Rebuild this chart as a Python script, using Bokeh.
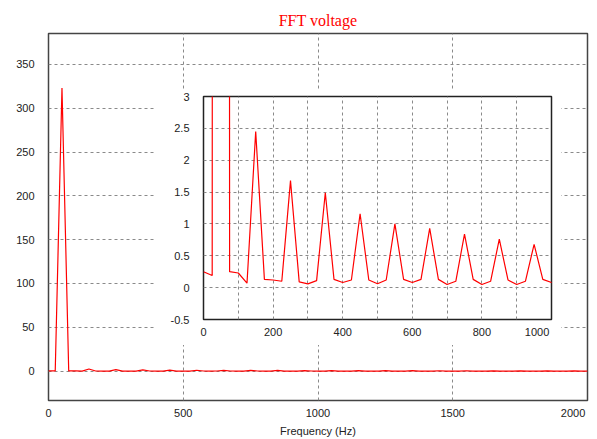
from bokeh.plotting import figure
from bokeh.models import Range1d, FixedTicker, ColumnDataSource
from bokeh.layouts import column
from bokeh.embed import file_html
from bokeh.resources import INLINE

# ---------------- data ----------------
freq_hz = list(range(0, 2001, 25))
fft_mag = [
    0.25, 0.19, 323.0, 0.25, 0.23, 0.07, 2.45, 0.13, 0.12, 0.10,
    1.68, 0.09, 0.06, 0.11, 1.49, 0.13, 0.08, 0.12, 1.16, 0.12,
    0.06, 0.12, 1.00, 0.13, 0.08, 0.13, 0.93, 0.13, 0.05, 0.10,
    0.84, 0.13, 0.05, 0.10, 0.76, 0.12, 0.05, 0.10, 0.68, 0.13,
    0.08, 0.10, 0.62, 0.12, 0.05, 0.10, 0.57, 0.12, 0.05, 0.10,
    0.52, 0.12, 0.05, 0.10, 0.48, 0.11, 0.05, 0.09, 0.45, 0.11,
    0.05, 0.09, 0.42, 0.11, 0.05, 0.09, 0.39, 0.10, 0.05, 0.09,
    0.37, 0.10, 0.05, 0.09, 0.35, 0.10, 0.05, 0.08, 0.33, 0.10,
    0.06,
]
main_x_ticks = [0, 500, 1000, 1500, 2000]
main_y_ticks = [0, 50, 100, 150, 200, 250, 300, 350]
inset_x_ticks = [0, 200, 400, 600, 800, 1000]
inset_x_grid = [0, 100, 200, 300, 400, 500, 600, 700, 800, 900, 1000]
inset_y_ticks = [-0.5, 0, 0.5, 1, 1.5, 2, 2.5, 3]
inset_y_labels = ["-0.5", "0", "0.5", "1", "1.5", "2", "2.5", "3"]
title_text = "FFT voltage"
x_title = "Frequency (Hz)"

LABEL_FONT = "Liberation Sans"
LABEL_COLOR = "#222222"
GRID_COLOR = "#8a8a8a"
NBSP = "\u00a0"

src = ColumnDataSource(dict(f=freq_hz, m=fft_mag))


def style_axes(fig):
    for ax in fig.axis:
        ax.axis_line_color = None
        ax.major_tick_line_color = None
        ax.minor_tick_line_color = None
        ax.major_tick_out = 0
        ax.major_tick_in = 0
        ax.major_label_text_font = LABEL_FONT
        ax.major_label_text_font_size = "11px"
        ax.major_label_text_color = LABEL_COLOR
    for g in fig.grid:
        g.grid_line_color = GRID_COLOR
        g.grid_line_dash = "3 3"
        g.grid_line_width = 1


# ---------------- main plot ----------------
p = figure(width=597, height=439, output_backend="svg", toolbar_location=None,
           x_range=Range1d(0, 2000), y_range=Range1d(-33.5, 385.2),
           min_border_left=48, min_border_right=2, min_border_top=33, min_border_bottom=37)
p.title.text = title_text
p.title.text_font = "Liberation Serif"
p.title.text_font_size = "16px"
p.title.text_font_style = "normal"
p.title.text_color = "#ff0000"
p.title.align = "center"
p.title.offset = -5
p.title.standoff = 9
p.outline_line_color = "#444444"
p.outline_line_width = 1.5
p.background_fill_color = "white"
p.border_fill_color = "white"

p.line("f", "m", source=src, line_color="#ff0000", line_width=1.2)

p.xaxis.ticker = FixedTicker(ticks=main_x_ticks)
p.yaxis.ticker = FixedTicker(ticks=main_y_ticks)
p.xgrid.ticker = FixedTicker(ticks=main_x_ticks)
p.ygrid.ticker = FixedTicker(ticks=main_y_ticks)
style_axes(p)
p.xaxis.major_label_standoff = 6
p.yaxis.major_label_standoff = 14
p.xaxis.major_label_overrides = {main_x_ticks[-1]: str(main_x_ticks[-1]) + NBSP * 4}
p.xaxis.axis_label = x_title
p.xaxis.axis_label_text_font = LABEL_FONT
p.xaxis.axis_label_text_font_size = "11px"
p.xaxis.axis_label_text_font_style = "normal"
p.xaxis.axis_label_text_color = LABEL_COLOR
p.xaxis.axis_label_standoff = 3

# ---------------- inset plot ----------------
p2 = figure(width=406, height=256, output_backend="svg", toolbar_location=None,
            x_range=Range1d(0, 1000), y_range=Range1d(-0.5, 3),
            min_border_left=39, min_border_right=10, min_border_top=7, min_border_bottom=26)
p2.outline_line_color = "#222222"
p2.outline_line_width = 1.5
p2.background_fill_color = "white"
p2.border_fill_color = "white"
p2.line("f", "m", source=src, line_color="#ff0000", line_width=1.2)
p2.xaxis.ticker = FixedTicker(ticks=inset_x_ticks)
p2.yaxis.ticker = FixedTicker(ticks=inset_y_ticks)
p2.xgrid.ticker = FixedTicker(ticks=inset_x_grid)
p2.ygrid.ticker = FixedTicker(ticks=inset_y_ticks)
style_axes(p2)
p2.xaxis.major_label_standoff = 6
p2.yaxis.major_label_standoff = 14
p2.yaxis.major_label_overrides = {t: lab for t, lab in zip(inset_y_ticks, inset_y_labels)}
p2.xaxis.major_label_overrides = {inset_x_ticks[-1]: str(inset_x_ticks[-1]) + NBSP * 4}
p2.styles = {"position": "absolute", "left": "155px", "top": "89px"}

layout = column(p, p2)
open("out.html", "w").write(file_html(layout, INLINE))
